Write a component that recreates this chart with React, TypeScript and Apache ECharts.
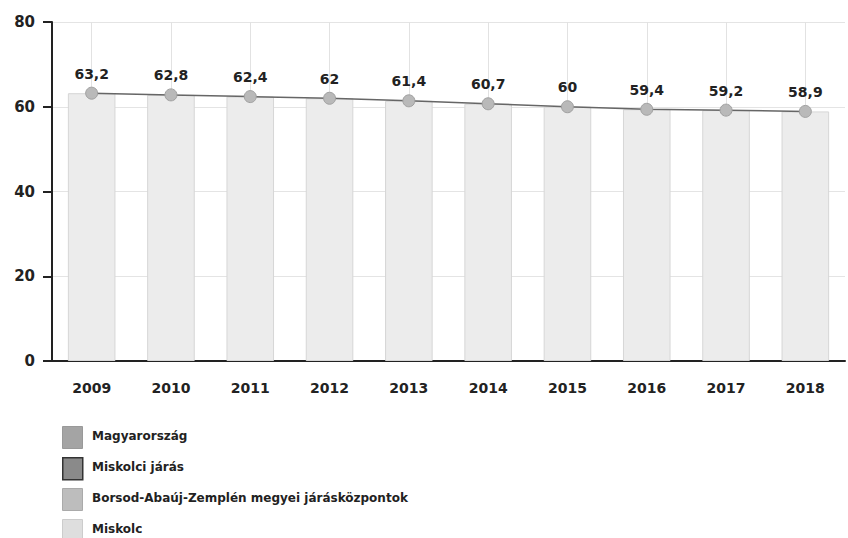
import React, { useEffect, useRef } from "react";
import * as echarts from "echarts";

const years = ["2009", "2010", "2011", "2012", "2013", "2014", "2015", "2016", "2017", "2018"];
const miskolcValues = [63.2, 62.8, 62.4, 62, 61.4, 60.7, 60, 59.4, 59.2, 58.9];
const legendNames = [
  "Magyarország",
  "Miskolci járás",
  "Borsod-Abaúj-Zemplén megyei járásközpontok",
  "Miskolc",
];
const legendColors = ["#a4a4a4", "#8a8a8a", "#bdbdbd", "#dedede"];
const legendBorders = ["#999999", "#333333", "#aaaaaa", "#cccccc"];
const yTicks = [0, 20, 40, 60, 80];

export default function App() {
  const ref = useRef<HTMLDivElement>(null);
  useEffect(() => {
    document.body.style.margin = "0";
    const chart = echarts.init(ref.current!, null, { renderer: "svg" });
    const font = "'DejaVu Sans', Verdana, sans-serif";
    const legendGraphics: any[] = [];
    legendNames.forEach((name, i) => {
      const top = 426 + i * 31;
      legendGraphics.push({
        type: "rect",
        left: 62,
        top,
        shape: { width: 20, height: 22 },
        style: { fill: legendColors[i], stroke: legendBorders[i], lineWidth: i === 1 ? 1.5 : 1 },
      });
      legendGraphics.push({
        type: "text",
        left: 92,
        top: top + 4,
        style: { text: name, fill: "#222", font: `bold 12px ${font}` },
      });
    });
    chart.setOption({
      animation: false,
      backgroundColor: "#ffffff",
      textStyle: { fontFamily: font },
      grid: { left: 52, right: 3, top: 22, bottom: 177, containLabel: false },
      graphic: legendGraphics,
      xAxis: {
        type: "category",
        data: years,
        boundaryGap: true,
        axisLine: { lineStyle: { color: "#222", width: 2 } },
        axisTick: { alignWithLabel: true, length: 7, lineStyle: { color: "#222", width: 2 } },
        axisLabel: { fontFamily: font, fontWeight: "bold", fontSize: 14, color: "#222", margin: 20 },
        splitLine: { show: false },
      },
      yAxis: {
        type: "value",
        min: 0,
        max: 80,
        interval: 20,
        axisLine: { show: true, lineStyle: { color: "#222", width: 2 } },
        axisTick: { show: true, length: 9, lineStyle: { color: "#222", width: 2 } },
        axisLabel: {
          fontFamily: font,
          fontWeight: "bold",
          fontSize: 15,
          color: "#222",
          margin: 17,
          formatter: (v: number) => (yTicks.includes(v) ? String(v) : ""),
        },
        splitLine: { show: true, lineStyle: { color: "#e4e4e4", width: 1 } },
      },
      series: [
        {
          name: legendNames[3],
          type: "bar",
          data: miskolcValues,
          barWidth: "60%",
          itemStyle: { color: "#ececec", borderColor: "#d6d6d6", borderWidth: 1 },
          z: 2,
          markLine: {
            silent: true,
            z: 0,
            symbol: "none",
            label: { show: false },
            lineStyle: { color: "#e2e2e2", width: 1, type: "solid" },
            data: years.map((y) => ({ xAxis: y })),
          },
        },
        {
          name: legendNames[2],
          type: "line",
          data: miskolcValues,
          symbol: "circle",
          symbolSize: 12,
          lineStyle: { color: "#666", width: 1.5 },
          itemStyle: { color: "#b9b9b9", borderColor: "#a0a0a0", borderWidth: 1 },
          label: {
            show: true,
            position: "top",
            distance: 6,
            fontFamily: font,
            fontWeight: "bold",
            fontSize: 14,
            color: "#222",
            formatter: (p: any) => String(p.value).replace(".", ","),
          },
          z: 3,
        },
      ],
    });
    return () => chart.dispose();
  }, []);
  return <div ref={ref} style={{ width: 848, height: 538 }} />;
}
